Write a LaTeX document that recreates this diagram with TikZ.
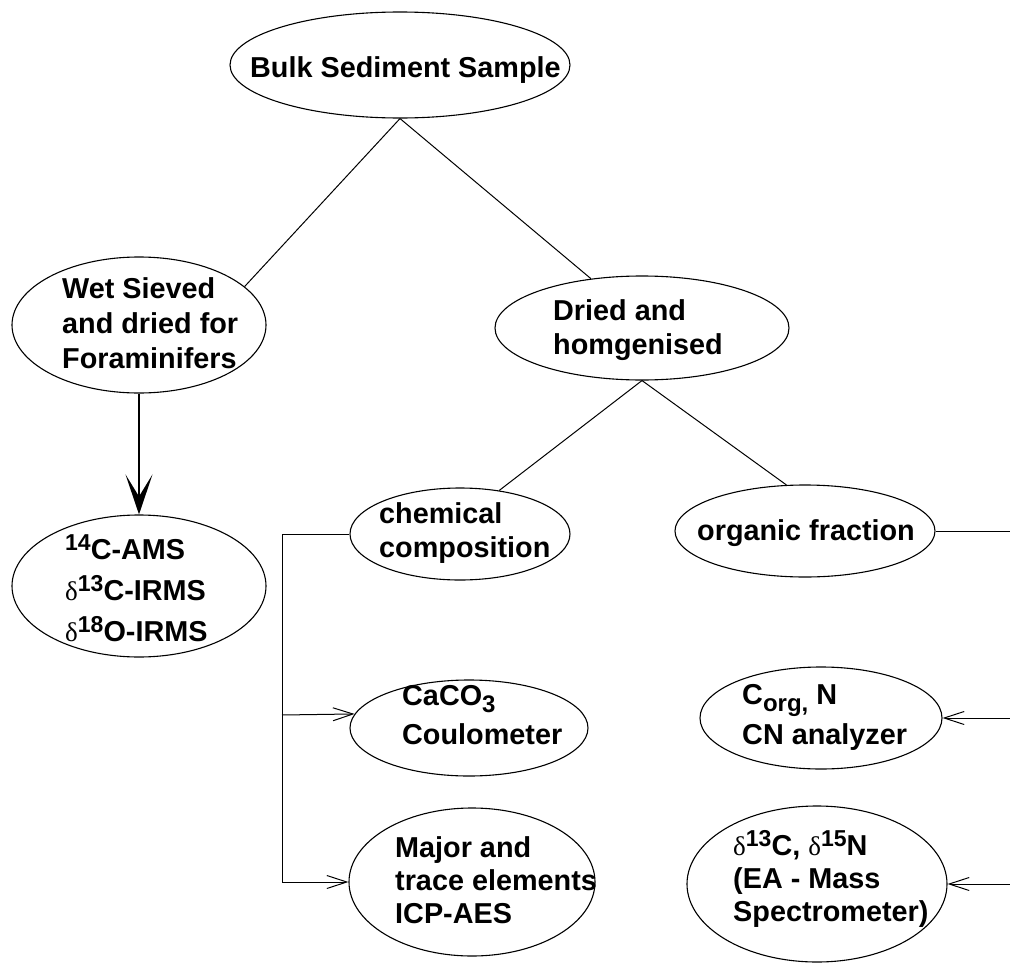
\documentclass[tikz,border=0pt]{standalone}
\usepackage{fontspec}
\setmainfont{Liberation Sans}
\newfontfamily\deltafont{Liberation Serif}
\usetikzlibrary{arrows.meta,shapes.geometric}
\newcommand{\supn}[1]{\raisebox{9pt}{\fontsize{23}{23}\selectfont #1}}
\newcommand{\subn}[1]{\raisebox{-7pt}{\fontsize{24}{24}\selectfont #1}}
\newcommand{\dlt}{{\deltafont\mdseries\fontsize{27}{27}\selectfont δ}}
\tikzset{
  ell/.style={draw, ellipse, line width=1.1pt, inner sep=0pt},
  txt/.style={inner sep=0pt, align=left, anchor=north west, font=\bfseries\fontsize{28.8}{34}\selectfont},
  link/.style={line width=1pt},
  barb/.style={line width=1pt, -{Straight Barb[length=20pt,width=13pt]}},
  bigarrow/.style={line width=2.6pt, -{Stealth[length=40pt,width=27pt,inset=22pt]}}
}
\begin{document}
\begin{tikzpicture}[x=1pt,y=-1pt]
\useasboundingbox (0,0) rectangle (1010,969);
% ellipses
\node[ell, minimum width=340pt, minimum height=106pt] (bulk) at (400,65) {};
\node[ell, minimum width=254pt, minimum height=136pt] (wet) at (139,325) {};
\node[ell, minimum width=294pt, minimum height=104pt] (dried) at (642,328) {};
\node[ell, minimum width=254pt, minimum height=142pt] (c14) at (139,586) {};
\node[ell, minimum width=220pt, minimum height=92pt] (chem) at (460,534) {};
\node[ell, minimum width=260pt, minimum height=92pt] (org) at (805,531) {};
\node[ell, minimum width=238pt, minimum height=96pt] (caco) at (469,728) {};
\node[ell, minimum width=246pt, minimum height=148pt] (major) at (472,882) {};
\node[ell, minimum width=242pt, minimum height=102pt] (corg) at (821,718) {};
\node[ell, minimum width=260pt, minimum height=156pt] (d13) at (817,884) {};
% texts
\node[txt, anchor=base west] (bulkT) at (250,77) {Bulk Sediment Sample};
\node[txt, font=\bfseries\fontsize{28.8}{35}\selectfont] (wetT) at (62,277) {Wet Sieved\\and dried for\\Foraminifers};
\node[txt] (driedT) at (553,299) {Dried and\\homgenised};
\node[txt] (chemT) at (379,502) {chemical\\composition};
\node[txt, anchor=base west] (orgT) at (697,540) {organic fraction};
\node[txt, font=\bfseries\fontsize{28.8}{41}\selectfont] (c14T) at (65,534.5) {\supn{14}C-AMS\\\dlt\supn{13}C-IRMS\\\dlt\supn{18}O-IRMS};
\node[txt, font=\bfseries\fontsize{28.8}{39}\selectfont] (cacoT) at (402,685.6) {CaCO\subn{3}\\Coulometer};
\node[txt, font=\bfseries\fontsize{28.8}{33}\selectfont] (majorT) at (395,836.5) {Major and\\trace elements\\ICP-AES};
\node[txt, font=\bfseries\fontsize{28.8}{40}\selectfont] (corgT) at (742,684.6) {C\subn{org,} N\\CN analyzer};
\node[txt, font=\bfseries\fontsize{28.8}{33}\selectfont] (d13T) at (733,830.5) {\dlt\supn{13}C, \dlt\supn{15}N\\(EA - Mass\\Spectrometer)};
% connectors
\draw[link] (bulk.south) -- (wet.20);
\draw[link] (bulk.south) -- (dried.136);
\draw[link] (dried.south) -- (chem.48);
\draw[link] (dried.south) -- (org.112);
\draw[bigarrow] (wet.south) -- (c14.north);
\coordinate (j0) at (282,534);
\coordinate (j1) at (282,715);
\coordinate (j2) at (282,882);
\draw[link] (chem.west) -- (j0) -- (j2);
\draw[barb] (j1) -- (caco.173.5);
\draw[barb] (j2) -- (major.west);
\coordinate (r0) at (1010,531);
\coordinate (r1) at (1010,718);
\coordinate (r2) at (1010,884);
\draw[link] (org.east) -- (r0);
\draw[barb] (r1) -- (corg.east);
\draw[barb] (r2) -- (d13.east);
\end{tikzpicture}
\end{document}
